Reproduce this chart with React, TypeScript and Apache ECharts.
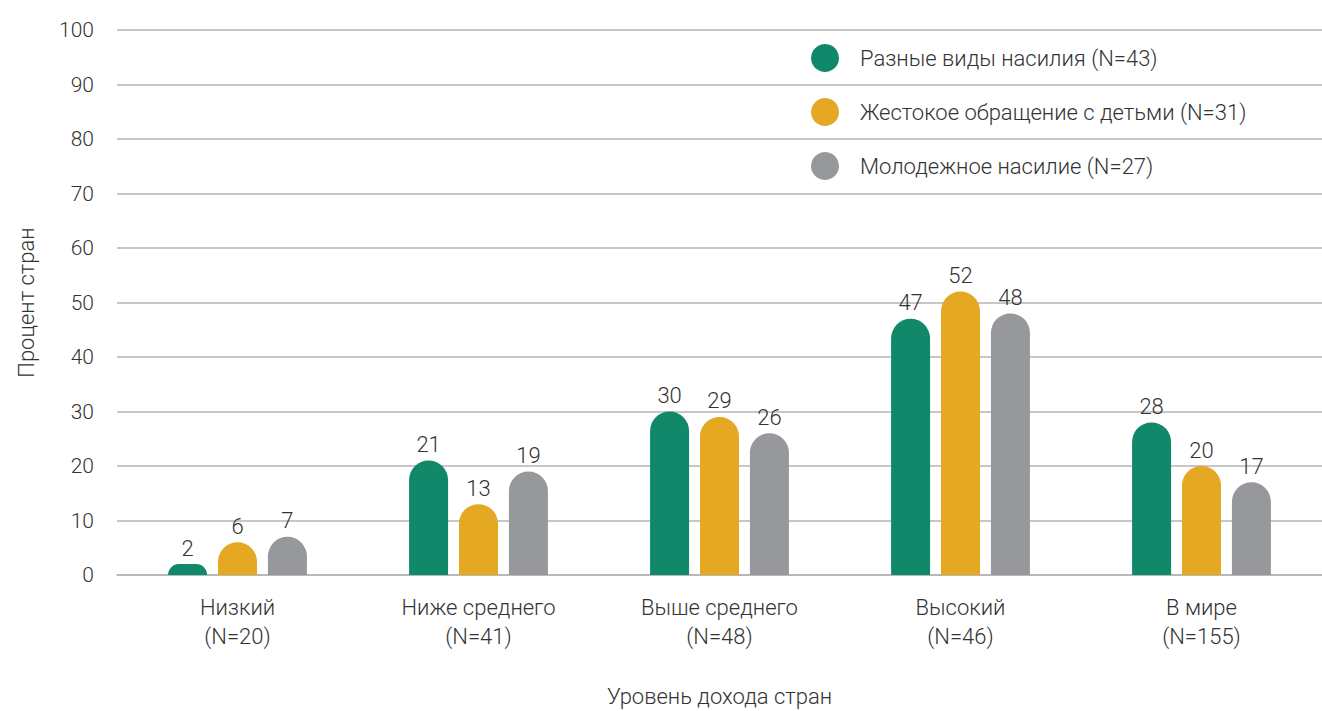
import React, { useEffect, useRef } from "react";
import * as echarts from "echarts";

const categories = ["Низкий\n(N=20)", "Ниже среднего\n(N=41)", "Выше среднего\n(N=48)", "Высокий\n(N=46)", "В мире\n(N=155)"];
const seriesNames = ["Разные виды насилия (N=43)", "Жестокое обращение с детьми (N=31)", "Молодежное насилие (N=27)"];
const mixedViolence = [2, 21, 30, 47, 28];
const childMaltreatment = [6, 13, 29, 52, 20];
const youthViolence = [7, 19, 26, 48, 17];
const colors = ["#118869", "#e5a823", "#97989b"];
const yTicks = [0, 100, 10];

const FONT = "Roboto";
const TEXT = "#333333";

export default function App() {
  const ref = useRef<HTMLDivElement>(null);
  useEffect(() => {
    if (!ref.current) return;
    const chart = echarts.init(ref.current, undefined, { renderer: "svg" });
    const data = [mixedViolence, childMaltreatment, youthViolence];
    chart.setOption({
      animation: false,
      textStyle: { fontFamily: FONT },
      grid: { left: 117, right: 0, top: 30, bottom: 136, containLabel: false, outerBoundsMode: "none" },
      legend: {
        orient: "vertical",
        left: 806,
        top: 39,
        icon: "circle",
        itemWidth: 28,
        itemHeight: 28,
        itemGap: 26,
        textStyle: { fontSize: 22, color: TEXT, fontFamily: FONT, fontWeight: 300, padding: [0, 0, 0, 16] },
        data: seriesNames,
      },
      xAxis: {
        type: "category",
        data: categories,
        name: "Уровень дохода стран",
        nameLocation: "middle",
        nameGap: 110,
        nameTextStyle: { fontSize: 22, color: TEXT, fontFamily: FONT, fontWeight: 300 },
        axisLine: { show: true, lineStyle: { color: "#b5b5b5", width: 1.5 } },
        axisTick: { show: false },
        axisLabel: { fontSize: 22, color: TEXT, lineHeight: 29, margin: 18, fontFamily: FONT, fontWeight: 300 },
      },
      yAxis: {
        type: "value",
        min: yTicks[0],
        max: yTicks[1],
        interval: yTicks[2],
        name: "Процент стран",
        nameLocation: "middle",
        nameGap: 80,
        nameRotate: 90,
        nameTextStyle: { fontSize: 22, color: TEXT, fontFamily: FONT, fontWeight: 300 },
        axisLine: { show: false },
        axisTick: { show: false },
        axisLabel: { fontSize: 21, color: TEXT, margin: 23, fontFamily: FONT, fontWeight: 300 },
        splitLine: { lineStyle: { color: "#b5b5b5", width: 1.5 } },
      },
      series: seriesNames.map((name, i) => ({
        name,
        type: "bar",
        data: data[i],
        barWidth: 39,
        barGap: "28%",
        itemStyle: { color: colors[i], borderRadius: [20, 20, 0, 0] },
        label: {
          show: true,
          position: "top",
          distance: 5,
          fontSize: 22,
          color: TEXT,
          fontFamily: FONT,
          fontWeight: 300,
        },
      })),
    });
    return () => chart.dispose();
  }, []);
  return (
    <div
      ref={ref}
      style={{ position: "fixed", left: 0, top: 0, width: 1322, height: 711, background: "#ffffff" }}
    />
  );
}
